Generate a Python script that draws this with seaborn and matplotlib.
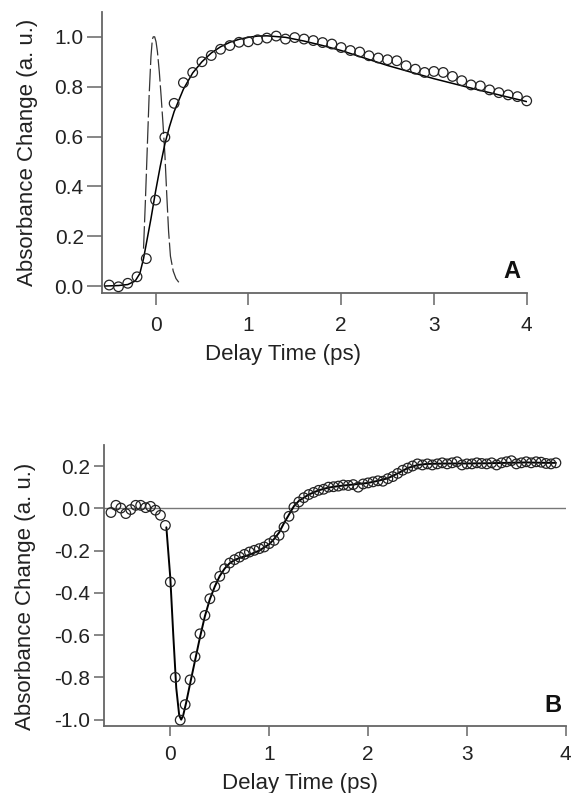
import matplotlib
matplotlib.use("Agg")
import matplotlib.pyplot as plt
import seaborn as sns

sns.set_theme(style="ticks")
plt.rcParams["font.family"] = ["Liberation Sans", "DejaVu Sans"]
plt.rcParams["axes.unicode_minus"] = False

# ---------------------------------------------------------------
# Panel A data
# ---------------------------------------------------------------
a_t = [-0.5, -0.4, -0.3, -0.2, -0.1, 0.0, 0.1, 0.2, 0.3, 0.4, 0.5, 0.6, 0.7,
       0.8, 0.9, 1.0, 1.1, 1.2, 1.3, 1.4, 1.5, 1.6, 1.7, 1.8, 1.9, 2.0, 2.1,
       2.2, 2.3, 2.4, 2.5, 2.6, 2.7, 2.8, 2.9, 3.0, 3.1, 3.2, 3.3, 3.4, 3.5,
       3.6, 3.7, 3.8, 3.9, 4.0]
a_abs = [0.004, -0.003, 0.011, 0.037, 0.11, 0.345, 0.597, 0.733, 0.816, 0.857,
         0.90, 0.925, 0.950, 0.965, 0.978, 0.980, 0.988, 0.995, 1.003, 0.991,
         0.997, 0.991, 0.985, 0.977, 0.971, 0.957, 0.945, 0.939, 0.924, 0.915,
         0.908, 0.904, 0.884, 0.870, 0.857, 0.861, 0.857, 0.841, 0.824, 0.807,
         0.803, 0.787, 0.776, 0.767, 0.760, 0.743]

a_fit_t = [-0.55, -0.4, -0.3, -0.22, -0.17, -0.13, -0.1, -0.05, 0.0, 0.05, 0.1,
           0.15, 0.2, 0.3, 0.4, 0.5, 0.6, 0.7, 0.8, 0.9, 1.0, 1.1, 1.2, 1.4,
           1.6, 1.8, 2.0, 2.5, 3.0, 3.5, 4.0]
a_fit = [0.0, 0.002, 0.006, 0.02, 0.05, 0.11, 0.17, 0.27, 0.38, 0.48, 0.57,
         0.64, 0.70, 0.79, 0.855, 0.90, 0.935, 0.96, 0.978, 0.99, 0.998, 1.003,
         1.004, 0.998, 0.983, 0.965, 0.945, 0.885, 0.832, 0.785, 0.74]

a_irf_t = [-0.13, -0.11, -0.09, -0.07, -0.05, -0.035, -0.025, -0.01, 0.005,
           0.02, 0.04, 0.06, 0.08, 0.10, 0.12, 0.14, 0.16, 0.19, 0.22, 0.25]
a_irf = [0.15, 0.34, 0.55, 0.76, 0.92, 0.99, 1.0, 1.0, 0.98, 0.94, 0.86, 0.76,
         0.65, 0.53, 0.37, 0.22, 0.12, 0.06, 0.03, 0.015]

# ---------------------------------------------------------------
# Panel B data
# ---------------------------------------------------------------
b_t = [-0.60, -0.55, -0.50, -0.45, -0.40, -0.35, -0.30, -0.25, -0.20, -0.15,
       -0.10, -0.05, 0.00, 0.05, 0.10, 0.15, 0.20, 0.25, 0.30, 0.35, 0.40,
       0.45, 0.50, 0.55, 0.60, 0.65, 0.70, 0.75, 0.80, 0.85, 0.90, 0.95, 1.00,
       1.05, 1.10, 1.15, 1.20, 1.25, 1.30, 1.35, 1.40, 1.45, 1.50, 1.55, 1.60,
       1.65, 1.70, 1.75, 1.80, 1.85, 1.90, 1.95, 2.00, 2.05, 2.10, 2.15, 2.20,
       2.25, 2.30, 2.35, 2.40, 2.45, 2.50, 2.55, 2.60, 2.65, 2.70, 2.75, 2.80,
       2.85, 2.90, 2.95, 3.00, 3.05, 3.10, 3.15, 3.20, 3.25, 3.30, 3.35, 3.40,
       3.45, 3.50, 3.55, 3.60, 3.65, 3.70, 3.75, 3.80, 3.85, 3.90]
b_abs = [-0.020, 0.014, 0.001, -0.025, -0.006, 0.014, 0.014, 0.003, 0.009,
         -0.009, -0.033, -0.081, -0.349, -0.800, -1.002, -0.929, -0.812, -0.702,
         -0.594, -0.507, -0.428, -0.370, -0.322, -0.286, -0.259, -0.243, -0.231,
         -0.218, -0.207, -0.199, -0.191, -0.183, -0.167, -0.152, -0.128, -0.089,
         -0.038, 0.005, 0.030, 0.050, 0.065, 0.075, 0.085, 0.090, 0.100, 0.102,
         0.105, 0.110, 0.108, 0.112, 0.100, 0.115, 0.120, 0.125, 0.130, 0.128,
         0.140, 0.150, 0.165, 0.180, 0.190, 0.200, 0.210, 0.205, 0.210, 0.205,
         0.210, 0.215, 0.210, 0.215, 0.220, 0.205, 0.210, 0.210, 0.215, 0.212,
         0.210, 0.215, 0.205, 0.215, 0.220, 0.225, 0.210, 0.215, 0.220, 0.215,
         0.220, 0.218, 0.212, 0.210, 0.215]

b_fit_t = [-0.04, 0.0, 0.03, 0.06, 0.09, 0.11, 0.13, 0.16, 0.2, 0.25, 0.3, 0.35,
           0.4, 0.45, 0.5, 0.55, 0.6, 0.65, 0.7, 0.8, 0.9, 1.0, 1.05, 1.1, 1.15,
           1.2, 1.25, 1.3, 1.4, 1.5, 1.6, 1.7, 1.8, 1.9, 2.0, 2.1, 2.2, 2.3, 2.4,
           2.5, 2.6, 2.8, 3.0, 3.2, 3.4, 3.6, 3.8, 3.9]
b_fit = [-0.09, -0.33, -0.60, -0.85, -0.98, -1.0, -0.98, -0.92, -0.83, -0.72,
         -0.61, -0.51, -0.43, -0.37, -0.32, -0.285, -0.26, -0.245, -0.235,
         -0.22, -0.20, -0.17, -0.145, -0.115, -0.07, -0.03, 0.01, 0.035, 0.065,
         0.085, 0.098, 0.105, 0.11, 0.115, 0.12, 0.13, 0.142, 0.165, 0.19,
         0.205, 0.21, 0.212, 0.212, 0.213, 0.215, 0.217, 0.215, 0.215]

SPINE = "#666666"
TXT = "#222222"
TICK_FS = 15
LABEL_FS = 16

fig = plt.figure(figsize=(5.75, 7.93), dpi=100)
ax_a = fig.add_axes([0.177, 0.6305, 0.739, 0.3545])
ax_b = fig.add_axes([0.181, 0.0845, 0.803, 0.3545])


def style_axis(ax, xlen, xpad, ylen, ypad, xlab_xy, ylab_xy):
    for side in ["top", "right"]:
        ax.spines[side].set_visible(False)
    for side in ["left", "bottom"]:
        ax.spines[side].set_color(SPINE)
        ax.spines[side].set_linewidth(1.3)
    ax.tick_params(direction="out", width=1.1, color=SPINE,
                   labelsize=TICK_FS, labelcolor=TXT)
    ax.tick_params(axis="x", length=xlen, pad=xpad)
    ax.tick_params(axis="y", length=ylen, pad=ypad)
    ax.set_xlabel("Delay Time (ps)", fontsize=LABEL_FS, color=TXT)
    ax.set_ylabel("Absorbance Change (a. u.)", fontsize=LABEL_FS, color=TXT)
    ax.xaxis.set_label_coords(*xlab_xy)
    ax.yaxis.set_label_coords(*ylab_xy)


marker_kw = dict(marker="o", s=48, facecolor="none", edgecolor="#222222",
                 linewidth=0.9, zorder=3, clip_on=False)

# Panel A
sns.lineplot(x=a_irf_t, y=a_irf, ax=ax_a, color="#333333", lw=0.9,
             linestyle=(0, (18, 3)), sort=False, estimator=None)
sns.lineplot(x=a_fit_t, y=a_fit, ax=ax_a, color="black", lw=1.1,
             sort=False, estimator=None)
sns.scatterplot(x=a_t, y=a_abs, ax=ax_a, **marker_kw)
ax_a.set_xlim(-0.58, 4.0)
ax_a.set_ylim(-0.028, 1.10)
ax_a.set_xticks([0, 1, 2, 3, 4])
ax_a.set_yticks([0.0, 0.2, 0.4, 0.6, 0.8, 1.0])
ax_a.set_yticklabels(["0.0", "0.2", "0.4", "0.6", "0.8", "1.0"])
style_axis(ax_a, 8.5, 8, 11, 2, (0.427, -0.181), (-0.151, 0.5))
ax_a.text(3.84, 0.057, "A", fontsize=17, fontweight="bold", ha="center",
          va="center", color="#111111")

# Panel B
ax_b.axhline(0, color="#777777", lw=1.0, zorder=1)
sns.lineplot(x=b_fit_t, y=b_fit, ax=ax_b, color="black", lw=1.4,
             sort=False, estimator=None)
sns.scatterplot(x=b_t, y=b_abs, ax=ax_b, **marker_kw)
ax_b.set_xlim(-0.67, 4.0)
ax_b.set_ylim(-1.03, 0.30)
ax_b.set_xticks([0, 1, 2, 3, 4])
ax_b.set_yticks([-1.0, -0.8, -0.6, -0.4, -0.2, 0.0, 0.2])
ax_b.set_yticklabels(["-1.0", "-0.8", "-0.6", "-0.4", "-0.2", "0.0", "0.2"])
style_axis(ax_b, 7, 7, 7, 3, (0.425, -0.167), (-0.148, 0.46))
ax_b.text(3.87, -0.934, "B", fontsize=17, fontweight="bold", ha="center",
          va="center", color="#111111")

fig.savefig("out.png", dpi=100)
